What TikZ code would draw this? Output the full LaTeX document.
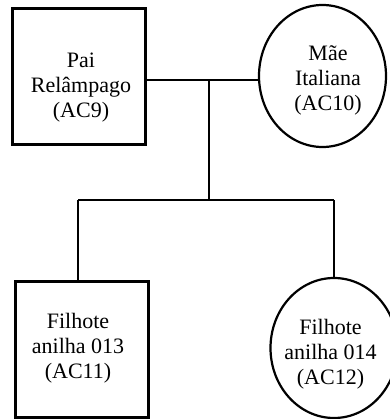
\documentclass[tikz,border=0pt]{standalone}
\usepackage{fontspec}
\setmainfont{Liberation Serif}
\usetikzlibrary{shapes.geometric}
\begin{document}
\begin{tikzpicture}[x=1pt,y=-1pt,
  sqbox/.style={draw, line width=3pt, inner sep=0pt, rectangle},
  ellbox/.style={draw, line width=2.2pt, inner sep=0pt, ellipse},
  lbl/.style={align=center, inner sep=0pt, font=\fontsize{22}{25}\selectfont},
  conn/.style={line width=2.4pt}]
\useasboundingbox (0,0) rectangle (389,419);
\node[sqbox, minimum width=132.5pt, minimum height=136.3pt] (pai) at (78.75,76.85) {};
\node[ellbox, minimum width=127pt, minimum height=142pt] (mae) at (322.5,76) {};
\node[sqbox, minimum width=133pt, minimum height=135.5pt] (f1) at (81.5,349.25) {};
\node[ellbox, minimum width=127pt, minimum height=140pt] (f2) at (334,348) {};
\node[lbl] (tpai) at (81,88) {Pai\\Relâmpago\\(AC9)};
\node[lbl] (tmae) at (328,80) {Mãe\\Italiana\\(AC10)};
\node[lbl] (tf1) at (78,348) {Filhote\\anilha 013\\(AC11)};
\node[lbl] (tf2) at (330.5,354) {Filhote\\anilha 014\\(AC12)};
\coordinate (jp) at (209,80);
\coordinate (jc) at (209,200);
\coordinate (cl) at (78,200);
\coordinate (cr) at (334,200);
\draw[conn] (jp -| pai.east) -- (jp -| mae.west);
\draw[conn] (jp) -- (jc);
\draw[conn] (cl) -- (cr);
\draw[conn] (cl) -- (cl |- f1.north);
\draw[conn] (cr) -- (f2.north);
\end{tikzpicture}
\end{document}
